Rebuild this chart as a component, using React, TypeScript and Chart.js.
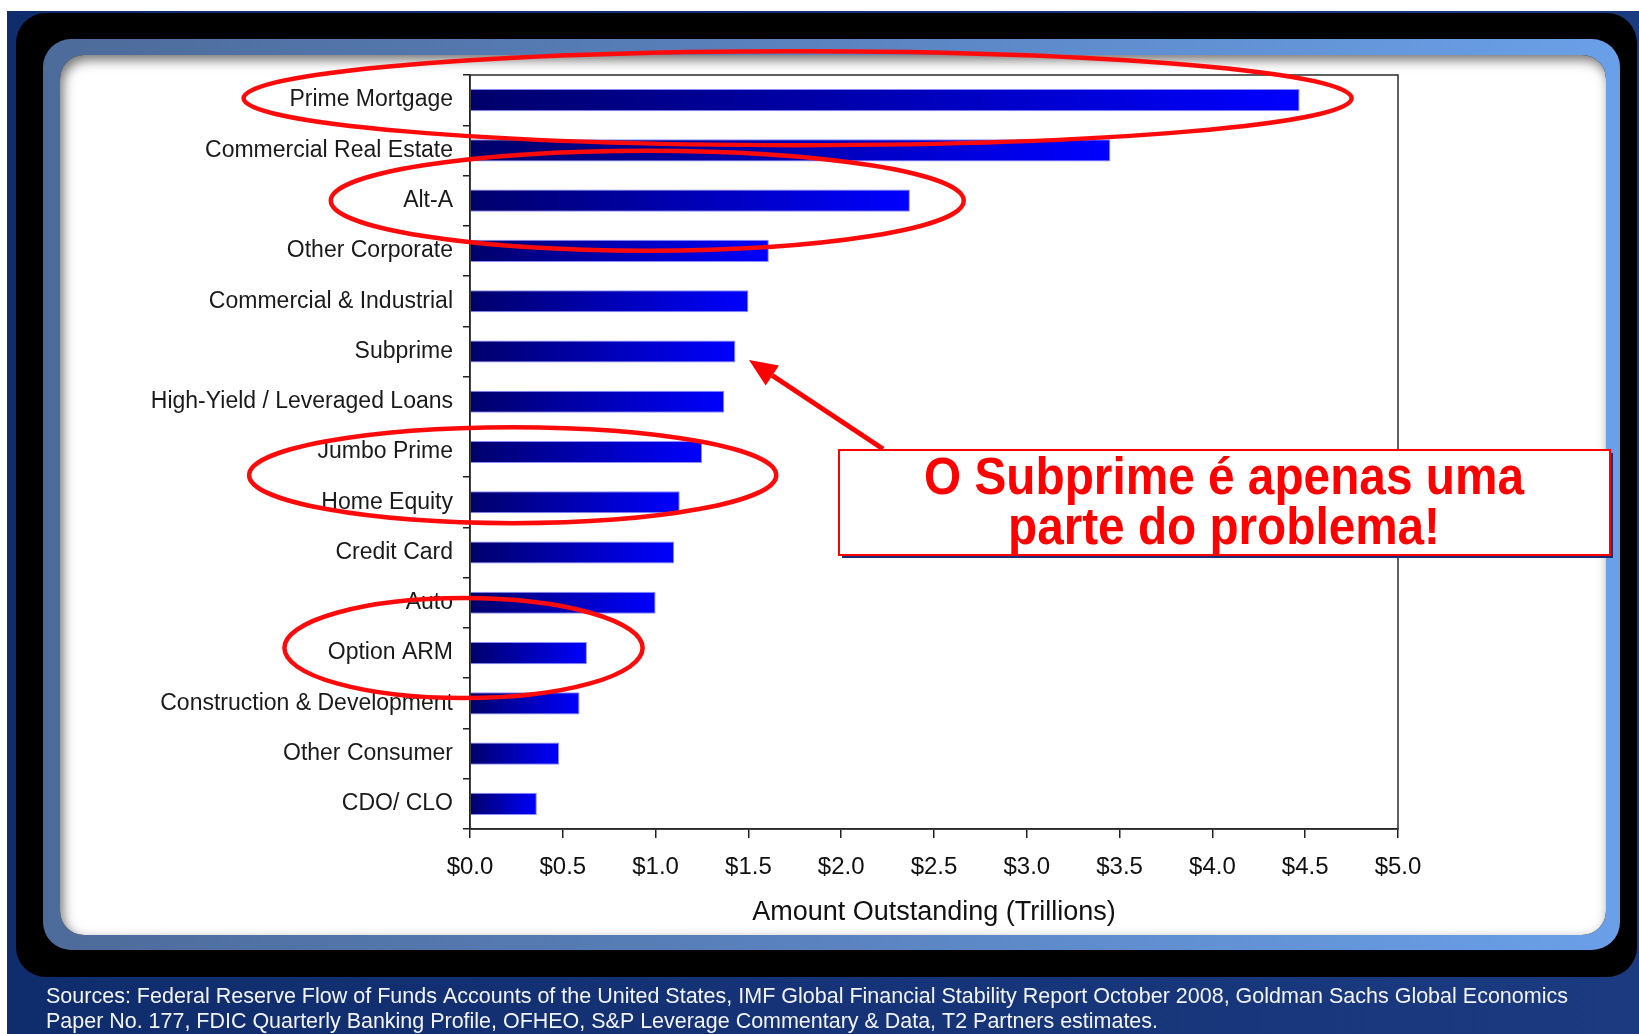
import React, { useEffect, useRef } from 'react';
import { Chart, registerables } from 'chart.js';

Chart.register(...registerables);

// ---------- data ----------
const categories = [
  'Prime Mortgage',
  'Commercial Real Estate',
  'Alt-A',
  'Other Corporate',
  'Commercial & Industrial',
  'Subprime',
  'High-Yield / Leveraged Loans',
  'Jumbo Prime',
  'Home Equity',
  'Credit Card',
  'Auto',
  'Option ARM',
  'Construction & Development',
  'Other Consumer',
  'CDO/ CLO',
];
const amounts = [4.47, 3.45, 2.37, 1.61, 1.5, 1.43, 1.37, 1.25, 1.13, 1.1, 1.0, 0.63, 0.59, 0.48, 0.36];
const xTickLabels = ['$0.0', '$0.5', '$1.0', '$1.5', '$2.0', '$2.5', '$3.0', '$3.5', '$4.0', '$4.5', '$5.0'];
const axisTitle = 'Amount Outstanding (Trillions)';
const calloutLines = ['O Subprime é apenas uma', 'parte do problema!'];
const sourceLines = [
  'Sources: Federal Reserve Flow of Funds Accounts of the United States, IMF Global Financial Stability Report October 2008, Goldman Sachs Global Economics',
  'Paper No. 177, FDIC Quarterly Banking Profile, OFHEO, S&P Leverage Commentary & Data, T2 Partners estimates.',
];
const highlightedRows = [['Prime Mortgage'], ['Alt-A'], ['Jumbo Prime', 'Home Equity'], ['Option ARM']];

// ---------- styling / annotation geometry ----------
const FONT = '"Liberation Sans", Arial, Helvetica, sans-serif';
const W = 1639;
const H = 1034;
const ellipseSpans = [
  { from: -1.22, to: 4.75, ry: 47, dy: -2 },
  { from: -0.75, to: 2.66, ry: 50, dy: 0 },
  { from: -1.19, to: 1.65, ry: 48, dy: -2 },
  { from: -1.0, to: 0.93, ry: 50, dy: -5 },
];

function rr(ctx: CanvasRenderingContext2D, x: number, y: number, w: number, h: number, r: number) {
  ctx.beginPath();
  ctx.moveTo(x + r, y);
  ctx.lineTo(x + w - r, y);
  ctx.arcTo(x + w, y, x + w, y + r, r);
  ctx.lineTo(x + w, y + h - r);
  ctx.arcTo(x + w, y + h, x + w - r, y + h, r);
  ctx.lineTo(x + r, y + h);
  ctx.arcTo(x, y + h, x, y + h - r, r);
  ctx.lineTo(x, y + r);
  ctx.arcTo(x, y, x + r, y, r);
  ctx.closePath();
}

// draws text horizontally scaled to an exact width; x is the left edge (or centre if centred)
function fitText(ctx: CanvasRenderingContext2D, text: string, x: number, y: number, width: number, centred = false) {
  const w = ctx.measureText(text).width;
  ctx.save();
  ctx.textAlign = 'left';
  ctx.translate(centred ? x - width / 2 : x, y);
  ctx.scale(width / w, 1);
  ctx.fillText(text, 0, 0);
  ctx.restore();
}

const backdropPlugin = {
  id: 'backdrop',
  beforeDraw(chart: any) {
    const ctx: CanvasRenderingContext2D = chart.ctx;
    ctx.save();
    ctx.fillStyle = '#ffffff';
    ctx.fillRect(0, 0, W, H);
    // navy slide background
    const navy = ctx.createLinearGradient(7, 0, W, 0);
    navy.addColorStop(0, '#0f2c6c');
    navy.addColorStop(1, '#1b3a80');
    ctx.fillStyle = navy;
    ctx.fillRect(7, 11, W - 7, H - 11);
    // black frame
    ctx.fillStyle = '#000000';
    rr(ctx, 16, 13, 1621, 964, 30);
    ctx.fill();
    // blue bevel frame
    const blue = ctx.createLinearGradient(43, 0, 1620, 0);
    blue.addColorStop(0, '#4d6b9a');
    blue.addColorStop(0.5, '#5a83c0');
    blue.addColorStop(1, '#6aa0e8');
    ctx.fillStyle = blue;
    rr(ctx, 43, 39, 1577, 911, 28);
    ctx.fill();
    // white panel with inset shadow
    const px = 60, py = 55, pw = 1546, ph = 880, pr = 24;
    ctx.fillStyle = '#ffffff';
    rr(ctx, px, py, pw, ph, pr);
    ctx.fill();
    ctx.save();
    rr(ctx, px, py, pw, ph, pr);
    ctx.clip();
    ctx.beginPath();
    ctx.rect(px - 200, py - 200, pw + 400, ph + 400);
    ctx.moveTo(px + pr, py);
    ctx.lineTo(px + pw - pr, py);
    ctx.arcTo(px + pw, py, px + pw, py + pr, pr);
    ctx.lineTo(px + pw, py + ph - pr);
    ctx.arcTo(px + pw, py + ph, px + pw - pr, py + ph, pr);
    ctx.lineTo(px + pr, py + ph);
    ctx.arcTo(px, py + ph, px, py + ph - pr, pr);
    ctx.lineTo(px, py + pr);
    ctx.arcTo(px, py, px + pr, py, pr);
    ctx.closePath();
    ctx.shadowColor = 'rgba(0,0,0,0.55)';
    ctx.shadowBlur = 12;
    ctx.shadowOffsetX = 3;
    ctx.shadowOffsetY = 5;
    ctx.fillStyle = '#000';
    ctx.fill('evenodd');
    ctx.restore();
    // sources
    ctx.fillStyle = '#f2f4f8';
    ctx.font = `22px ${FONT}`;
    ctx.textBaseline = 'middle';
    fitText(ctx, sourceLines[0], 46, 997, 1522);
    fitText(ctx, sourceLines[1], 46, 1022, 1112);
    ctx.restore();
  },
};

const annotationPlugin = {
  id: 'annotations',
  afterDraw(chart: any) {
    const ctx: CanvasRenderingContext2D = chart.ctx;
    const a = chart.chartArea;
    const xs = chart.scales.x;
    const ys = chart.scales.y;
    ctx.save();
    // plot frame
    ctx.strokeStyle = '#2a2a2a';
    ctx.lineWidth = 1.5;
    ctx.strokeRect(a.left, a.top, a.right - a.left, a.bottom - a.top);
    // red ellipses
    ctx.strokeStyle = '#ff0a0a';
    ctx.lineWidth = 4.5;
    highlightedRows.forEach((rows, i) => {
      const sp = ellipseSpans[i];
      const pys = rows.map((r) => ys.getPixelForValue(categories.indexOf(r)));
      const cy = (Math.min(...pys) + Math.max(...pys)) / 2 + sp.dy;
      const l = xs.getPixelForValue(sp.from);
      const r = xs.getPixelForValue(sp.to);
      ctx.beginPath();
      ctx.ellipse((l + r) / 2, cy, (r - l) / 2, sp.ry, 0, 0, Math.PI * 2);
      ctx.stroke();
    });
    // arrow
    const tx = 749, ty = 360, fx = 883, fy = 449;
    const ang = Math.atan2(ty - fy, tx - fx);
    const headLen = 28, headW = 12;
    const bx = tx - Math.cos(ang) * headLen;
    const by = ty - Math.sin(ang) * headLen;
    ctx.strokeStyle = '#ff0000';
    ctx.lineWidth = 5;
    ctx.beginPath();
    ctx.moveTo(fx, fy);
    ctx.lineTo(bx, by);
    ctx.stroke();
    ctx.fillStyle = '#ff0000';
    ctx.beginPath();
    ctx.moveTo(tx, ty);
    ctx.lineTo(bx + Math.sin(ang) * headW, by - Math.cos(ang) * headW);
    ctx.lineTo(bx - Math.sin(ang) * headW, by + Math.cos(ang) * headW);
    ctx.closePath();
    ctx.fill();
    // callout box
    const bxl = 839, byt = 450, bw = 771, bh = 105;
    ctx.fillStyle = '#1c2c78';
    ctx.fillRect(bxl + 3, byt + 3, bw, bh);
    ctx.fillStyle = '#ffffff';
    ctx.fillRect(bxl, byt, bw, bh);
    ctx.strokeStyle = '#ff0000';
    ctx.lineWidth = 2;
    ctx.strokeRect(bxl, byt, bw, bh);
    ctx.fillStyle = '#ff0000';
    ctx.font = `bold 51px ${FONT}`;
    ctx.textBaseline = 'middle';
    fitText(ctx, calloutLines[0], 1224, 480, 600, true);
    fitText(ctx, calloutLines[1], 1224, 530, 432, true);
    ctx.restore();
  },
};

function barGradient(c: any) {
  const ch = c.chart;
  const xs = ch && ch.scales ? ch.scales.x : null;
  const v = c.raw;
  if (!xs || typeof v !== 'number') return '#0000c0';
  const x0 = xs.getPixelForValue(0);
  const x1 = xs.getPixelForValue(v);
  if (!Number.isFinite(x0) || !Number.isFinite(x1) || Math.abs(x1 - x0) < 1) return '#0000c0';
  const g = ch.ctx.createLinearGradient(x0, 0, x1, 0);
  g.addColorStop(0, '#00006a');
  g.addColorStop(1, '#0000ff');
  return g;
}

export default function App() {
  const ref = useRef<HTMLCanvasElement | null>(null);

  useEffect(() => {
    const canvas = ref.current;
    if (!canvas) return;
    const chart = new Chart(canvas, {
      type: 'bar',
      data: {
        labels: categories,
        datasets: [
          {
            data: amounts,
            backgroundColor: barGradient,
            borderColor: 'rgba(120,120,255,0.85)',
            borderWidth: 1,
            barPercentage: 0.44,
            categoryPercentage: 1.0,
          },
        ],
      },
      options: {
        indexAxis: 'y',
        responsive: false,
        animation: false,
        devicePixelRatio: 1,
        layout: { padding: { left: 0, top: 75, right: 241, bottom: 95 } },
        plugins: {
          legend: { display: false },
          tooltip: { enabled: false },
        },
        scales: {
          x: {
            type: 'linear',
            min: 0,
            max: 5,
            afterFit: (axis: any) => {
              axis.height = 110;
            },
            afterBuildTicks: (axis: any) => {
              axis.ticks = xTickLabels.map((_, i) => ({ value: i * 0.5 }));
            },
            ticks: {
              color: '#111',
              font: { size: 24, family: FONT },
              padding: 15,
              maxRotation: 0,
              autoSkip: false,
              callback: (_v: any, i: number) => xTickLabels[i],
            },
            grid: { drawOnChartArea: false, tickLength: 9, color: '#222', lineWidth: 1.5 },
            border: { display: true, color: '#222', width: 1.5 },
            title: {
              display: true,
              text: axisTitle,
              color: '#111',
              font: { size: 27, family: FONT },
              padding: { top: 4, bottom: 10 },
            },
          },
          y: {
            afterFit: (axis: any) => {
              axis.width = 470;
            },
            ticks: {
              color: '#1a1a1a',
              font: { size: 23, family: FONT },
              padding: 10,
              autoSkip: false,
            },
            grid: { drawOnChartArea: false, tickLength: 7, color: '#222', lineWidth: 1.5, offset: true },
            border: { display: true, color: '#222', width: 1.5 },
          },
        },
      },
      plugins: [backdropPlugin, annotationPlugin],
    } as any);
    chart.update();
    return () => chart.destroy();
  }, []);

  return (
    <canvas
      ref={ref}
      width={W}
      height={H}
      style={{ position: 'fixed', left: 0, top: 0, width: W, height: H, display: 'block' }}
    />
  );
}
